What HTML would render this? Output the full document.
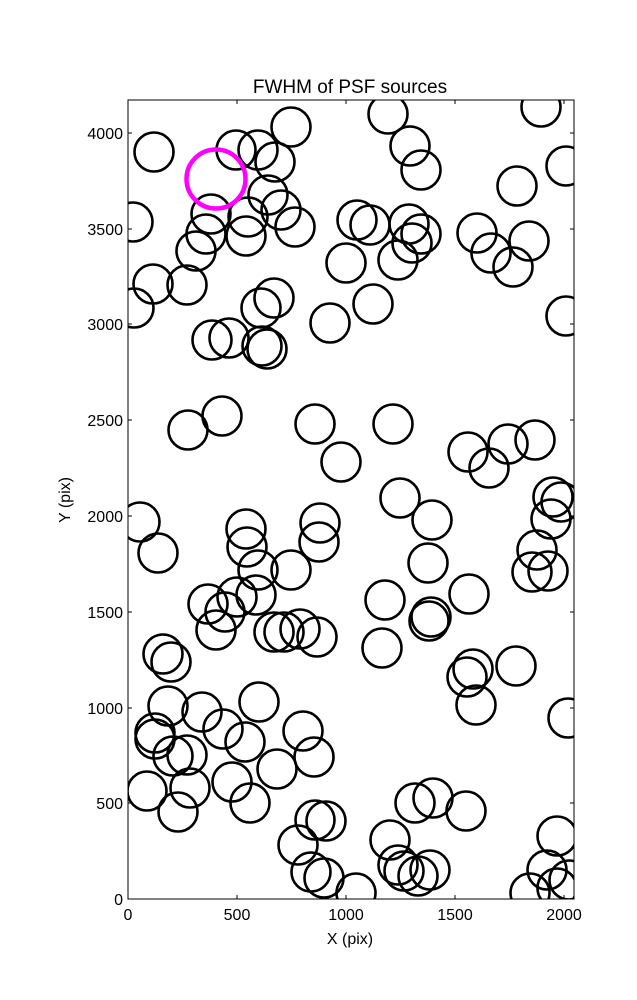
<!DOCTYPE html>
<html><head><meta charset="utf-8"><style>body{margin:0;background:#fff}svg{display:block}</style></head><body>
<svg width="637" height="1000" xmlns="http://www.w3.org/2000/svg" font-family="Liberation Sans, DejaVu Sans, sans-serif">
<defs><clipPath id="c"><rect x="128" y="100" width="446" height="799"/></clipPath></defs>
<rect width="637" height="1000" fill="#fff"/>
<g clip-path="url(#c)" fill="none" stroke="#000" stroke-width="2.6">
<circle cx="154" cy="152" r="19.5"/><circle cx="236" cy="150" r="19.5"/><circle cx="258" cy="150" r="19.5"/><circle cx="291" cy="127" r="19.5"/><circle cx="388" cy="114" r="19.5"/><circle cx="410" cy="146" r="19.5"/><circle cx="421" cy="170" r="19.5"/><circle cx="517" cy="186" r="19.5"/><circle cx="541" cy="107" r="19.5"/><circle cx="566" cy="166" r="19.5"/>
<circle cx="133" cy="222" r="19.5"/><circle cx="211" cy="214" r="19.5"/><circle cx="206" cy="234" r="19.5"/><circle cx="196" cy="251" r="19.5"/><circle cx="248" cy="217" r="19.5"/><circle cx="246" cy="236" r="19.5"/><circle cx="268" cy="195" r="19.5"/><circle cx="275" cy="162" r="19.5"/><circle cx="281" cy="210" r="19.5"/><circle cx="295" cy="227" r="19.5"/>
<circle cx="357" cy="220" r="19.5"/><circle cx="370" cy="225" r="19.5"/><circle cx="409" cy="224" r="19.5"/><circle cx="412" cy="243" r="19.5"/><circle cx="421" cy="234" r="19.5"/><circle cx="346" cy="263" r="19.5"/><circle cx="398" cy="260" r="19.5"/><circle cx="477" cy="233" r="19.5"/><circle cx="491" cy="253" r="19.5"/><circle cx="513" cy="267" r="19.5"/>
<circle cx="529" cy="241" r="19.5"/><circle cx="153" cy="284" r="19.5"/><circle cx="187" cy="285" r="19.5"/><circle cx="373" cy="304" r="19.5"/><circle cx="261" cy="308" r="19.5"/><circle cx="274" cy="298" r="19.5"/><circle cx="134" cy="308" r="19.5"/><circle cx="330" cy="323" r="19.5"/><circle cx="566" cy="316" r="19.5"/><circle cx="212" cy="340" r="19.5"/>
<circle cx="229" cy="338" r="19.5"/><circle cx="262" cy="346" r="19.5"/><circle cx="267" cy="349" r="19.5"/><circle cx="222" cy="416" r="19.5"/><circle cx="188" cy="430" r="19.5"/><circle cx="315" cy="424" r="19.5"/><circle cx="393" cy="424" r="19.5"/><circle cx="341" cy="462" r="19.5"/><circle cx="468" cy="452" r="19.5"/><circle cx="508" cy="444" r="19.5"/>
<circle cx="489" cy="468" r="19.5"/><circle cx="535" cy="440" r="19.5"/><circle cx="140" cy="522" r="19.5"/><circle cx="158" cy="553" r="19.5"/><circle cx="320" cy="523" r="19.5"/><circle cx="319" cy="542" r="19.5"/><circle cx="400" cy="498" r="19.5"/><circle cx="432" cy="520" r="19.5"/><circle cx="553" cy="497" r="19.5"/><circle cx="561" cy="502" r="19.5"/>
<circle cx="551" cy="519" r="19.5"/><circle cx="246" cy="529" r="19.5"/><circle cx="247" cy="547" r="19.5"/><circle cx="258" cy="570" r="19.5"/><circle cx="291" cy="570" r="19.5"/><circle cx="537" cy="550" r="19.5"/><circle cx="532" cy="572" r="19.5"/><circle cx="548" cy="571" r="19.5"/><circle cx="428" cy="563" r="19.5"/><circle cx="385" cy="600" r="19.5"/>
<circle cx="469" cy="594" r="19.5"/><circle cx="431" cy="617" r="19.5"/><circle cx="429" cy="621" r="19.5"/><circle cx="208" cy="604" r="19.5"/><circle cx="225" cy="612" r="19.5"/><circle cx="237" cy="597" r="19.5"/><circle cx="256" cy="595" r="19.5"/><circle cx="216" cy="630" r="19.5"/><circle cx="274" cy="632" r="19.5"/><circle cx="284" cy="632" r="19.5"/>
<circle cx="300" cy="629" r="19.5"/><circle cx="317" cy="637" r="19.5"/><circle cx="163" cy="654" r="19.5"/><circle cx="171" cy="662" r="19.5"/><circle cx="382" cy="648" r="19.5"/><circle cx="467" cy="677" r="19.5"/><circle cx="473" cy="669" r="19.5"/><circle cx="476" cy="705" r="19.5"/><circle cx="516" cy="666" r="19.5"/><circle cx="259" cy="702" r="19.5"/>
<circle cx="168" cy="706" r="19.5"/><circle cx="155" cy="733" r="19.5"/><circle cx="155" cy="739" r="19.5"/><circle cx="202" cy="712" r="19.5"/><circle cx="223" cy="729" r="19.5"/><circle cx="245" cy="742" r="19.5"/><circle cx="173" cy="756" r="19.5"/><circle cx="187" cy="755" r="19.5"/><circle cx="303" cy="731" r="19.5"/><circle cx="314" cy="757" r="19.5"/>
<circle cx="277" cy="769" r="19.5"/><circle cx="147" cy="791" r="19.5"/><circle cx="190" cy="788" r="19.5"/><circle cx="232" cy="782" r="19.5"/><circle cx="250" cy="803" r="19.5"/><circle cx="178" cy="812" r="19.5"/><circle cx="415" cy="803" r="19.5"/><circle cx="433" cy="798" r="19.5"/><circle cx="466" cy="811" r="19.5"/><circle cx="326" cy="821" r="19.5"/>
<circle cx="298" cy="845" r="19.5"/><circle cx="315" cy="820" r="19.5"/><circle cx="390" cy="840" r="19.5"/><circle cx="311" cy="872" r="19.5"/><circle cx="324" cy="878" r="19.5"/><circle cx="356" cy="893" r="19.5"/><circle cx="398" cy="865" r="19.5"/><circle cx="404" cy="871" r="19.5"/><circle cx="418" cy="876" r="19.5"/><circle cx="430" cy="870" r="19.5"/>
<circle cx="530" cy="893" r="19.5"/><circle cx="547" cy="870" r="19.5"/><circle cx="557" cy="888" r="19.5"/><circle cx="557" cy="836" r="19.5"/><circle cx="568" cy="718" r="19.5"/><circle cx="569" cy="880" r="19.5"/>
</g>
<circle cx="216" cy="179" r="29.5" fill="none" stroke="#f0f" stroke-width="4.5"/>
<rect x="128" y="100" width="446" height="799" fill="none" stroke="#000" stroke-width="1"/>
<g stroke="#000" stroke-width="1">
<line x1="128" y1="899" x2="128" y2="895"/><line x1="237" y1="899" x2="237" y2="895"/><line x1="346" y1="899" x2="346" y2="895"/><line x1="455" y1="899" x2="455" y2="895"/><line x1="564" y1="899" x2="564" y2="895"/>
<line x1="128" y1="100" x2="128" y2="104"/><line x1="237" y1="100" x2="237" y2="104"/><line x1="346" y1="100" x2="346" y2="104"/><line x1="455" y1="100" x2="455" y2="104"/><line x1="564" y1="100" x2="564" y2="104"/>
<line x1="128" y1="899" x2="132" y2="899"/><line x1="128" y1="803" x2="132" y2="803"/><line x1="128" y1="708" x2="132" y2="708"/><line x1="128" y1="612" x2="132" y2="612"/><line x1="128" y1="516" x2="132" y2="516"/><line x1="128" y1="420" x2="132" y2="420"/><line x1="128" y1="324" x2="132" y2="324"/><line x1="128" y1="229" x2="132" y2="229"/><line x1="128" y1="133" x2="132" y2="133"/>
<line x1="574" y1="899" x2="570" y2="899"/><line x1="574" y1="803" x2="570" y2="803"/><line x1="574" y1="708" x2="570" y2="708"/><line x1="574" y1="612" x2="570" y2="612"/><line x1="574" y1="516" x2="570" y2="516"/><line x1="574" y1="420" x2="570" y2="420"/><line x1="574" y1="324" x2="570" y2="324"/><line x1="574" y1="229" x2="570" y2="229"/><line x1="574" y1="133" x2="570" y2="133"/>
</g>
<g font-size="16" text-anchor="middle" fill="#000">
<text x="128" y="920">0</text><text x="237" y="920">500</text><text x="346" y="920">1000</text><text x="455" y="920">1500</text><text x="564" y="920">2000</text>
<text x="350" y="944">X (pix)</text>
<text x="350" y="93" font-size="19">FWHM of PSF sources</text>
</g>
<g font-size="16" text-anchor="end" fill="#000">
<text x="123" y="905">0</text><text x="123" y="809">500</text><text x="123" y="714">1000</text><text x="123" y="618">1500</text><text x="123" y="522">2000</text><text x="123" y="426">2500</text><text x="123" y="330">3000</text><text x="123" y="235">3500</text><text x="123" y="139">4000</text>
</g>
<text x="70" y="500" font-size="16" text-anchor="middle" transform="rotate(-90 70 500)">Y (pix)</text>
</svg>
</body></html>
